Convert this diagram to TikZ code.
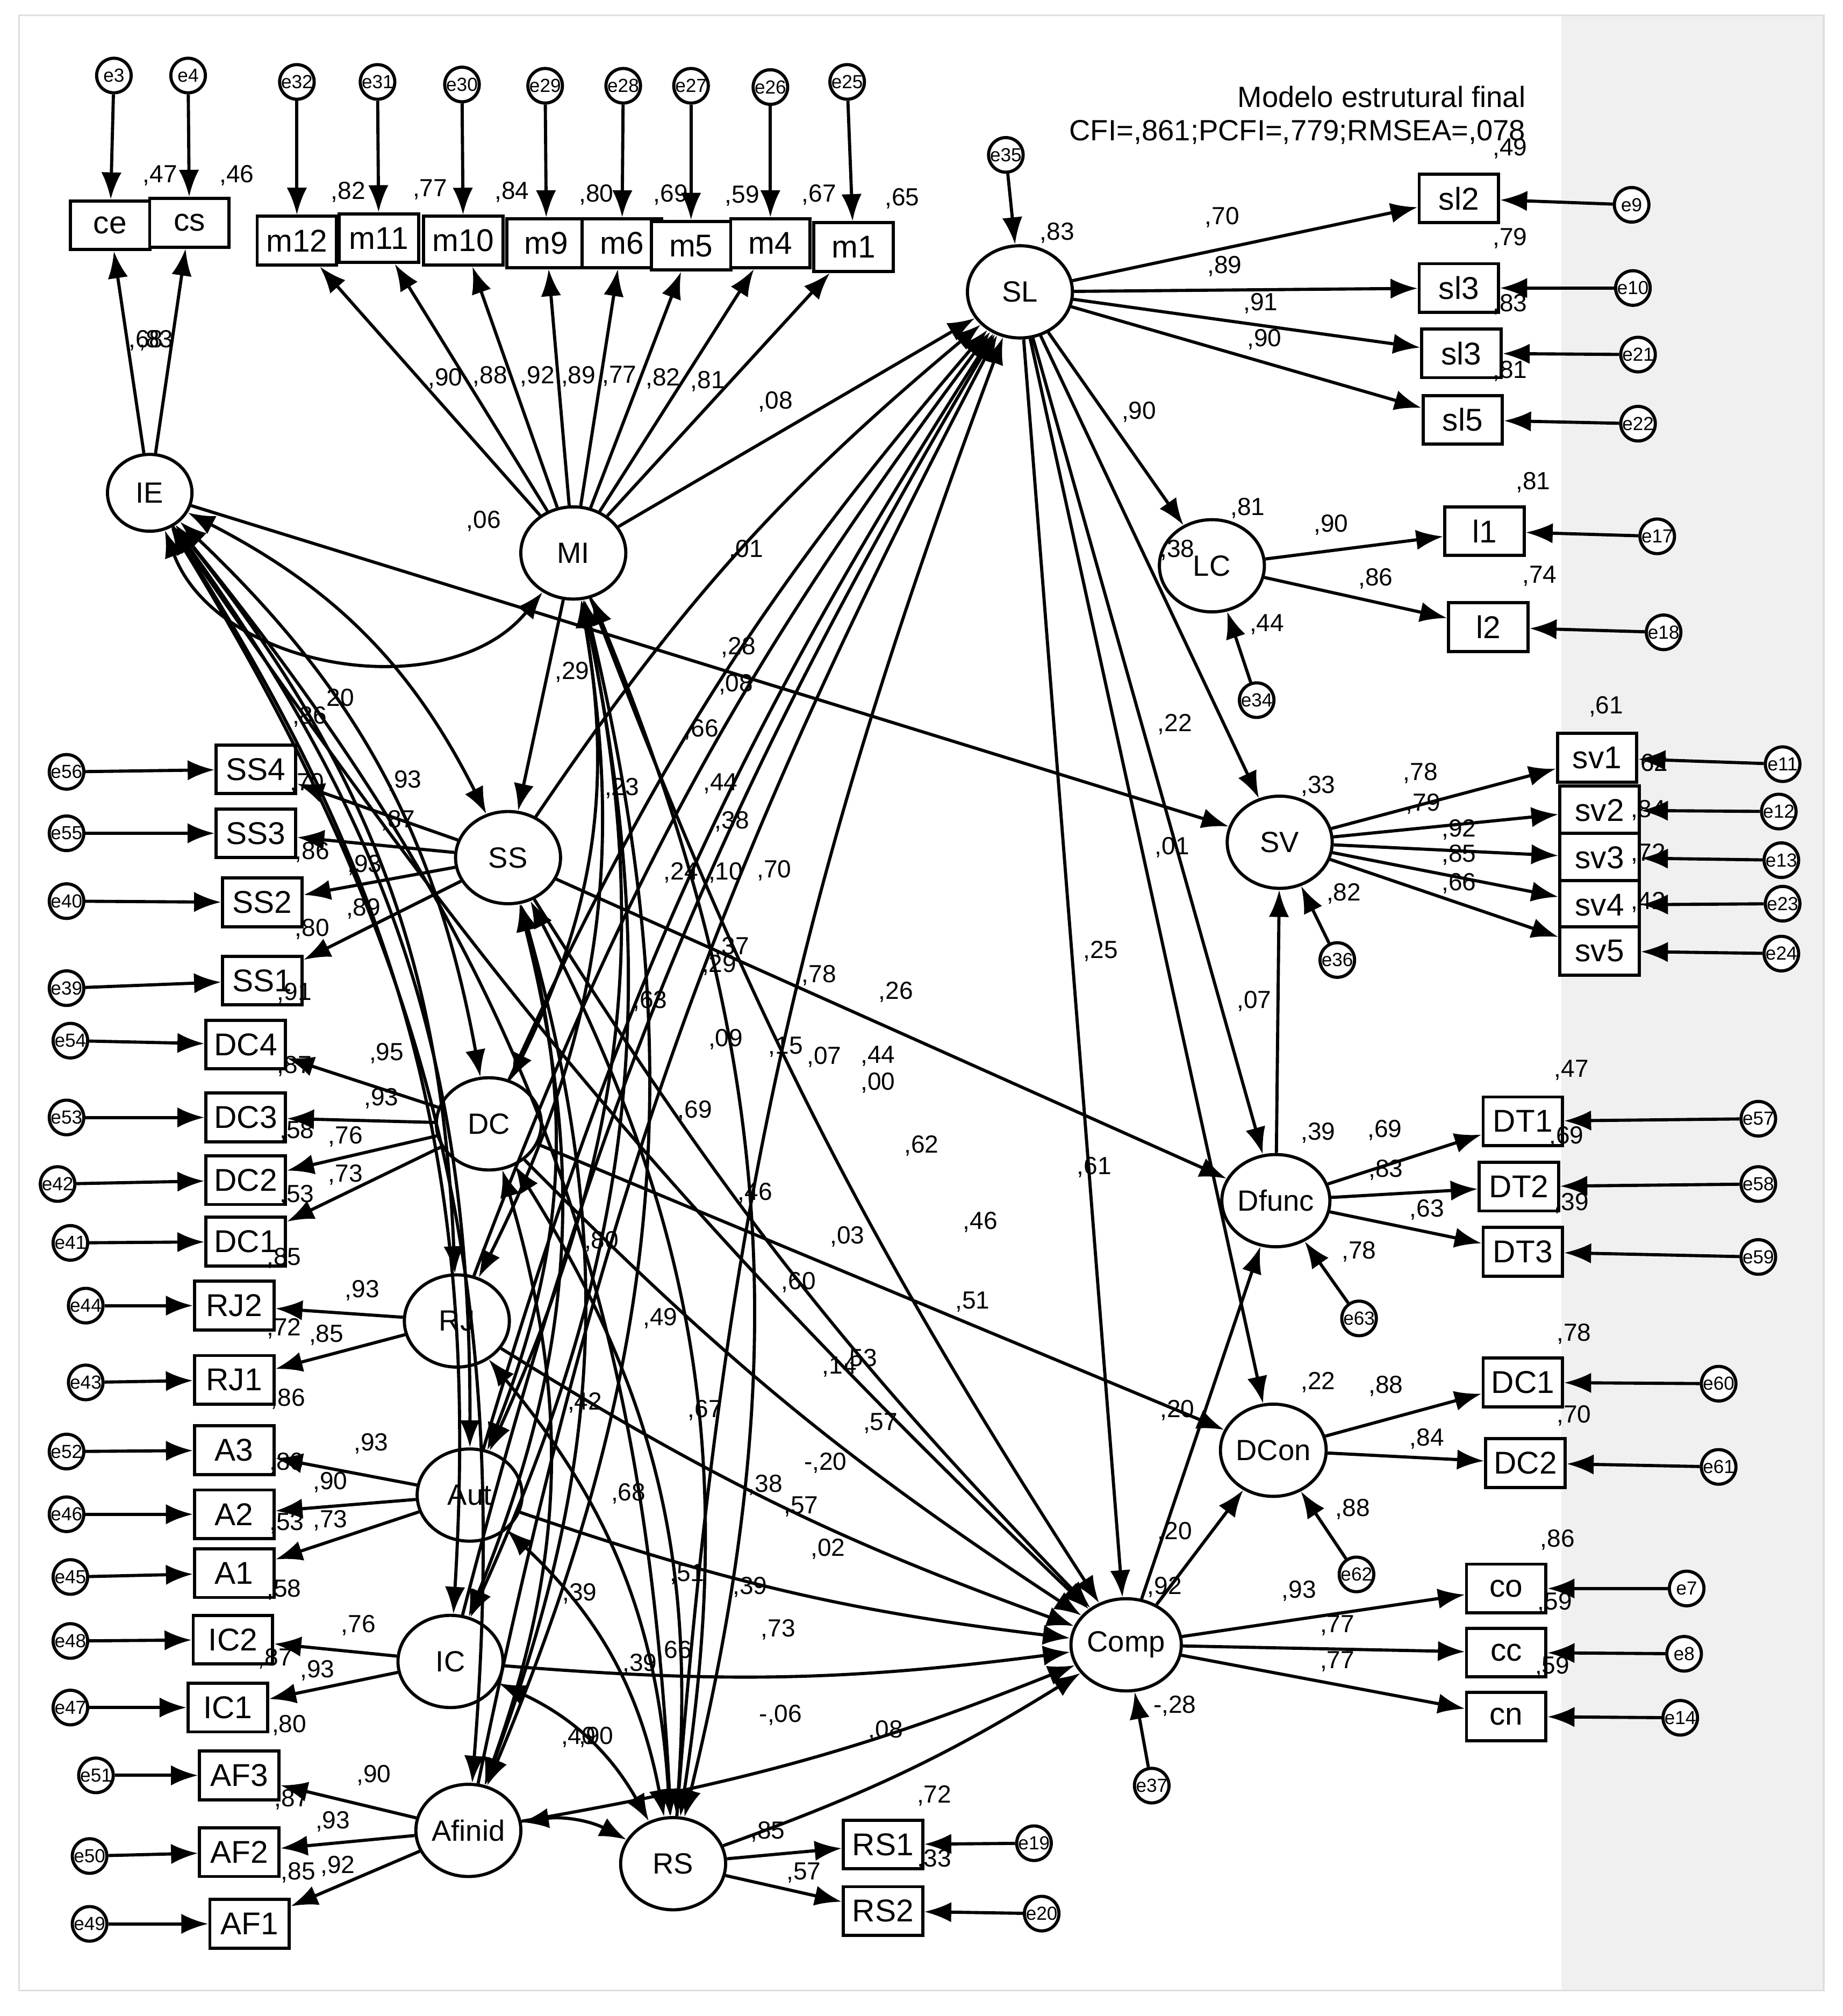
\documentclass[tikz,border=0pt]{standalone}
\usepackage{fontspec}
\setmainfont{Liberation Sans}
\usetikzlibrary{arrows.meta,shapes.geometric}
\begin{document}
\begin{tikzpicture}[x=0.01cm,y=-0.01cm,
 >={Latex[length=6pt,width=4.5pt]},
 every path/.style={line width=0.7pt},
 lat/.style={draw,ellipse,minimum width=0.82cm,minimum height=0.72cm,inner sep=0pt,font=\fontsize{6.5}{7}\selectfont,fill=white},
 box/.style={draw,rectangle,minimum width=0.62cm,minimum height=0.38cm,inner sep=1pt,font=\fontsize{7}{8}\selectfont,fill=white},
 err/.style={draw,circle,minimum size=0.27cm,inner sep=0pt,font=\fontsize{4.2}{5}\selectfont,fill=white},
 num/.style={font=\fontsize{5.5}{6}\selectfont,inner sep=0pt},
 cov/.style={<->}]
\useasboundingbox (0,0) rectangle (1440,1575);
\fill[white] (0,0) rectangle (1440,1575);
\fill[gray!12] (1220,12) rectangle (1425,1555);
\draw[gray!25,line width=0.4pt] (15,12) rectangle (1425,1555);
\node[anchor=east,font=\fontsize{6.5}{7.5}\selectfont,align=right] at (1205,90) {Modelo estrutural final\\CFI=,861;PCFI=,779;RMSEA=,078};
% latents
\foreach \n/\x/\y in {MI/448/432,SL/797/228,LC/947/442,SV/1000/658,SS/397/670,DC/382/878,RJ/357/1032,Aut/367/1168,IC/352/1298,Afinid/366/1430,RS/526/1456,Comp/880/1285,Dfunc/997/938,DCon/995/1133}
 \node[lat] (\n) at (\x,\y) {\n};
\node[lat,minimum width=0.66cm,minimum height=0.6cm] (IE) at (117,385) {IE};
% boxes
\foreach \n/\t/\x/\y in {ce/ce/86/176,cs/cs/148/174,m12/m12/232/188,m11/m11/296/186,m10/m10/362/188,m9/m9/427/190,m6/m6/486/190,m5/m5/540/192,m4/m4/602/190,m1/m1/667/193,
 slA/sl2/1140/155,slB/sl3/1140/225,slC/sl3/1142/276,slD/sl5/1143/328,lA/l1/1160/415,lB/l2/1163/490,
 svA/sv1/1248/592,svB/sv2/1250/633,svC/sv3/1250/670,svD/sv4/1250/707,svE/sv5/1250/743,
 dtA/DT1/1190/876,dtB/DT2/1187/927,dtC/DT3/1190/978,dcA/DC1/1190/1080,dcB/DC2/1192/1143,
 co/co/1177/1241,cc/cc/1177/1291,cn/cn/1177/1341,rsA/RS1/690/1441,rsB/RS2/690/1493,
 ssD/SS4/200/601,ssC/SS3/200/651,ssB/SS2/205/705,ssA/SS1/205/766,
 dD/DC4/192/816,dC/DC3/192/873,dB/DC2/192/922,dA/DC1/192/970,rjB/RJ2/183/1020,rjA/RJ1/183/1078,
 aC/A3/183/1133,aB/A2/183/1183,aA/A1/183/1229,icB/IC2/182/1281,icA/IC1/178/1334,
 afC/AF3/187/1387,afB/AF2/187/1447,afA/AF1/195/1503}
 \node[box] (\n) at (\x,\y) {\t};
% errors
\foreach \n/\x/\y/\b in {e3/89/59/ce,e4/147/59/cs,e32/232/64/m12,e31/295/64/m11,e30/361/66/m10,e29/426/67/m9,e28/487/67/m6,e27/540/67/m5,e26/602/68/m4,e25/662/64/m1,e35/786/121/SL,
 e9/1275/160/slA,e10/1276/225/slB,e21/1280/277/slC,e22/1280/331/slD,e17/1295/419/lA,e18/1300/494/lB,e34/982/547/LC,
 e11/1393/597/svA,e12/1390/634/svB,e13/1392/672/svC,e23/1393/706/svD,e24/1392/745/svE,e36/1045/750/SV,
 e57/1374/874/dtA,e58/1374/925/dtB,e59/1374/982/dtC,e63/1062/1030/Dfunc,e60/1343/1081/dcA,e61/1343/1146/dcB,e62/1060/1230/DCon,
 e7/1318/1241/co,e8/1316/1292/cc,e14/1313/1342/cn,e37/900/1395/Comp,e19/808/1440/rsA,e20/814/1495/rsB,
 e56/52/603/ssD,e55/52/651/ssC,e40/52/704/ssB,e39/52/772/ssA,e54/55/813/dD,e53/52/873/dC,e42/45/925/dB,e41/55/971/dA,
 e44/67/1020/rjB,e43/67/1080/rjA,e52/52/1134/aC,e46/52/1183/aB,e45/55/1232/aA,e48/55/1282/icB,e47/55/1334/icA,
 e51/75/1387/afC,e50/70/1450/afB,e49/70/1503/afA}
 {\node[err] (\n) at (\x,\y) {\n}; \draw[->] (\n) -- (\b);}
% loadings
\foreach \a/\b in {IE/ce,IE/cs,MI/m12,MI/m11,MI/m10,MI/m9,MI/m6,MI/m5,MI/m4,MI/m1,SL/slA,SL/slB,SL/slC,SL/slD,LC/lA,LC/lB,
 SV/svA,SV/svB,SV/svC,SV/svD,SV/svE,Dfunc/dtA,Dfunc/dtB,Dfunc/dtC,DCon/dcA,DCon/dcB,Comp/co,Comp/cc,Comp/cn,RS/rsA,RS/rsB,
 SS/ssD,SS/ssC,SS/ssB,SS/ssA,DC/dD,DC/dC,DC/dB,DC/dA,RJ/rjB,RJ/rjA,Aut/aC,Aut/aB,Aut/aA,IC/icB,IC/icA,Afinid/afC,Afinid/afB,Afinid/afA}
 \draw[->] (\a) -- (\b);
% structural
\foreach \a/\b in {MI/SL,SL/LC,SL/SV,SL/Dfunc,SL/DCon,SL/Comp,IE/SV,SS/Dfunc,DC/DCon,Comp/Dfunc,Comp/DCon,Dfunc/SV,MI/SS}
 \draw[->] (\a) -- (\b);
\foreach \a in {SS,DC,RJ,Aut,IC,Afinid,RS} \draw[->] (\a) to[bend left=8] (SL);
\foreach \a in {IE,MI,SS,DC,RJ,Aut,IC,Afinid,RS} \draw[->] (\a) to[bend right=6] (Comp);
% covariances
\draw[cov] (IE) to[bend right=60] (MI);
\foreach \a/\b in {IE/SS,IE/DC,IE/RJ,IE/Aut,IE/IC,IE/Afinid,MI/DC,MI/RJ,MI/Aut,MI/IC,MI/Afinid,MI/RS,SS/RS,SS/Aut,SS/IC,DC/RS,DC/Afinid,RJ/RS,Aut/RS,IC/RS,IE/RS,SS/Afinid,Afinid/RS}
 \draw[cov] (\a) to[bend left=18] (\b);
% numbers
\foreach \x/\y/\t in {125/137/{,47},185/137/{,46},272/150/{,82},336/148/{,77},400/150/{,84},466/152/{,80},524/152/{,69},580/153/{,59},640/152/{,67},705/155/{,65},826/182/{,83},955/170/{,70},1180/116/{,49},957/208/{,89},1180/186/{,79},985/237/{,91},1180/238/{,83},988/265/{,90},1180/290/{,81},890/322/{,90},975/397/{,81},1198/377/{,81},1040/410/{,90},1075/452/{,86},1203/450/{,74},920/430/{,38},990/488/{,44},918/566/{,22},1030/614/{,33},1110/604/{,78},1112/628/{,79},1255/552/{,61},1290/597/{,62},1288/633/{,84},1288/667/{,72},1288/705/{,42},1140/648/{,92},1140/668/{,85},1140/690/{,66},1050/698/{,82},916/662/{,01},980/782/{,07},860/743/{,25},855/912/{,61},1030/885/{,39},1082/883/{,69},1083/914/{,83},1115/945/{,63},1228/836/{,47},1224/888/{,69},1228/940/{,39},1062/978/{,78},1030/1080/{,22},1083/1083/{,88},1115/1124/{,84},1230/1042/{,78},1230/1106/{,70},1057/1179/{,88},920/1102/{,20},918/1197/{,20},910/1240/{,92},1015/1243/{,93},1045/1270/{,77},1045/1298/{,77},1217/1203/{,86},1215/1252/{,59},1213/1302/{,59},918/1333/{-,28},730/1403/{,72},730/1453/{,33},600/1431/{,85},628/1463/{,57},
 242/560/{,86},266/545/{20},316/610/{,93},240/612/{,70},311/641/{,87},244/666/{,86},285/676/{,93},284/710/{,89},244/726/{,80},230/776/{,91},302/823/{,95},230/833/{,87},298/858/{,93},232/884/{,58},270/888/{,76},270/918/{,73},232/934/{,53},222/983/{,85},283/1008/{,93},222/1038/{,72},255/1043/{,85},225/1093/{,86},290/1128/{,93},224/1143/{,80},258/1158/{,90},224/1190/{,53},258/1188/{,73},222/1242/{,58},280/1270/{,76},215/1296/{,87},248/1305/{,93},226/1348/{,80},292/1387/{,90},228/1406/{,87},260/1423/{,93},233/1463/{,85},264/1458/{,92},
 114/266/{,68},122/266/{,83},348/296/{,90},383/294/{,88},420/294/{,92},452/294/{,89},484/294/{,77},518/296/{,82},553/298/{,81},606/314/{,08},378/407/{,06},583/430/{,01},447/525/{,29},577/506/{,28},575/535/{,08},548/570/{,66},563/612/{,44},486/616/{,23},572/642/{,38},532/682/{,24},567/682/{,10},605/680/{,70},572/740/{,37},562/754/{,29},640/762/{,78},700/775/{,26},508/782/{,63},567/812/{,09},614/818/{,15},644/826/{,07},686/825/{,44},686/846/{,00},543/868/{,69},720/895/{,62},590/932/{,46},662/966/{,03},766/955/{,46},470/970/{,80},624/1002/{,60},760/1017/{,51},516/1030/{,49},656/1068/{,14},672/1062/{,53},688/1112/{,57},457/1096/{,42},551/1102/{,67},645/1143/{-,20},491/1167/{,68},598/1160/{,38},626/1177/{,57},647/1210/{,02},537/1230/{,51},453/1245/{,39},586/1240/{,39},608/1273/{,73},527/1290/{,66},500/1300/{,39},610/1340/{-,06},452/1357/{,40},466/1357/{,90},692/1352/{,08}}
 \node[num] at (\x,\y) {\t};
\end{tikzpicture}
\end{document}
